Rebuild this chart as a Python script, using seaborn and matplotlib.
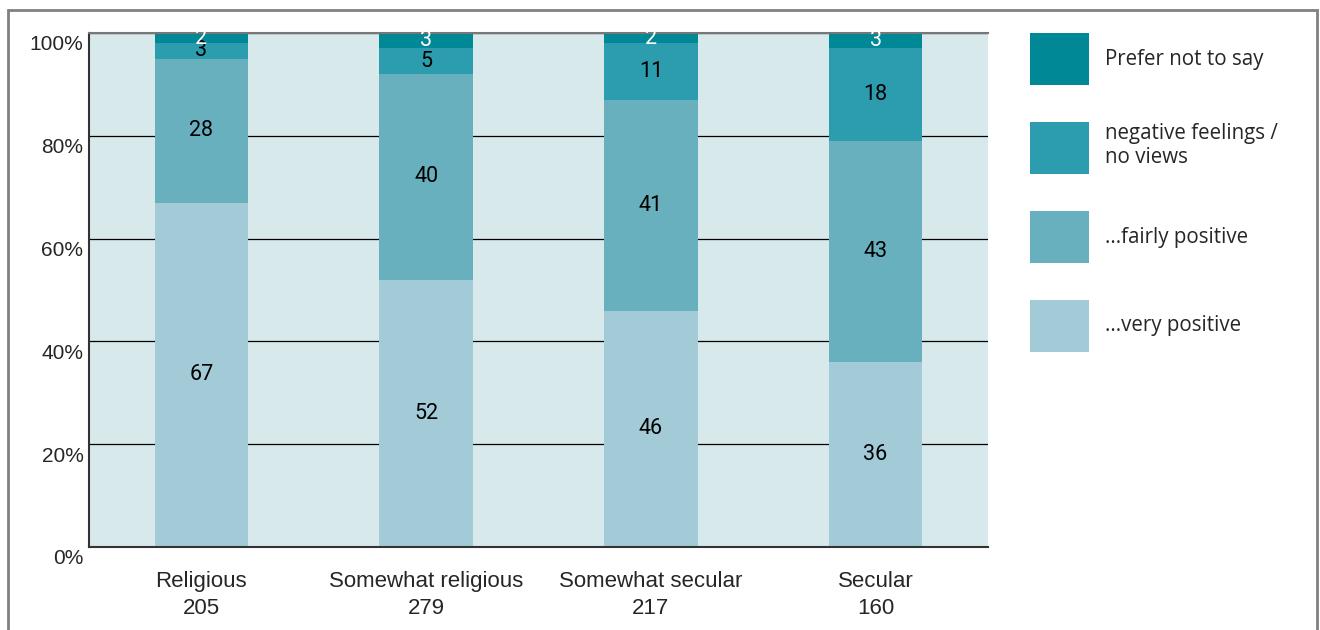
import matplotlib
matplotlib.use('Agg')
import numpy as np
import pandas as pd
import matplotlib.pyplot as plt
import matplotlib.transforms as mtransforms
from matplotlib.patches import Patch, Rectangle
import seaborn as sns

# data
groups = ['Religious', 'Somewhat religious', 'Somewhat secular', 'Secular']
group_n = [205, 279, 217, 160]
series = ['...very positive', '...fairly positive', 'negative feelings /\nno views', 'Prefer not to say']
very_positive = [67, 52, 46, 36]
fairly_positive = [28, 40, 41, 43]
negative = [3, 5, 11, 18]
prefer_not = [2, 3, 2, 3]
colors = ['#a2cbd7', '#68b0be', '#2c9caf', '#008896']
y_ticks = [0, 20, 40, 60, 80, 100]

sns.set_style('white')
plt.rcParams['font.family'] = ['Liberation Sans', 'DejaVu Sans']

values = [very_positive, fairly_positive, negative, prefer_not]
df = pd.DataFrame({'group': groups})
for name, vals in zip(series, values):
    df[name] = vals
cum = df[series].cumsum(axis=1)

fig = plt.figure(figsize=(13.2, 6.3), dpi=100)
ax = fig.add_axes([89 / 1320, 1 - 547 / 630, (988 - 89) / 1320, (547 - 33) / 630])
ax.set_facecolor('#d8e9ec')

# stacked bars: draw cumulative totals from top layer down
for name, col in reversed(list(zip(series, colors))):
    sns.barplot(x=df['group'], y=cum[name], color=col, width=0.415,
                saturation=1, ax=ax, zorder=2, linewidth=0)

# segment labels
for i in range(len(groups)):
    bottom = 0
    for j, name in enumerate(series):
        v = df.loc[i, name]
        tc = 'white' if j == 3 else 'black'
        ax.text(i, bottom + v / 2, str(v), ha='center', va='center',
                fontsize=15.5, color=tc, zorder=4, family=['Roboto', 'DejaVu Sans'])
        bottom += v

ax.set_xlim(-0.5, 3.5)
ax.set_ylim(0, 100)
ax.set_yticks(y_ticks)
ax.set_yticklabels([f'{t}%' for t in y_ticks], fontsize=15)
ax.yaxis.grid(True, color='black', linewidth=0.9, zorder=1)
ax.set_axisbelow(True)
ax.tick_params(axis='y', length=0, pad=4)
off = mtransforms.ScaledTranslation(0, -10 / 100, fig.dpi_scale_trans)
for lab in ax.get_yticklabels():
    lab.set_transform(lab.get_transform() + off)

ax.set_xticks(range(len(groups)))
ax.set_xticklabels([f'{g}\n{n}' for g, n in zip(groups, group_n)], fontsize=16,
                   linespacing=1.4)
ax.tick_params(axis='x', length=0, pad=17)
ax.set_xticks(np.arange(0.5, 4, 1), minor=True)
ax.tick_params(axis='x', which='minor', direction='in', length=14, width=1, color='#333333')
ax.set_xlabel('')
ax.set_ylabel('')

for s in ['left', 'bottom']:
    ax.spines[s].set_color('#333333')
    ax.spines[s].set_linewidth(1.5)
ax.spines['top'].set_color('#777777')
ax.spines['top'].set_linewidth(1.5)
ax.spines['right'].set_visible(False)

# legend
handles = [Patch(facecolor=c, edgecolor='none') for c in reversed(colors)]
fig.legend(handles, list(reversed(series)), loc='upper left',
           bbox_to_anchor=(1022 / 1320, 1 - 25 / 630), frameon=False,
           prop={'family': ['Open Sans', 'DejaVu Sans'], 'size': 14.8},
           handlelength=2.87, handleheight=3.53, labelspacing=1.78,
           handletextpad=0.78, borderaxespad=0)

# outer frame
fig.patches.append(Rectangle((8 / 1320, -0.1), (1317 - 8) / 1320, 1.1 - 10 / 630,
                             transform=fig.transFigure, fill=False,
                             edgecolor='#808080', linewidth=2))

fig.savefig('out.png', dpi=100)
